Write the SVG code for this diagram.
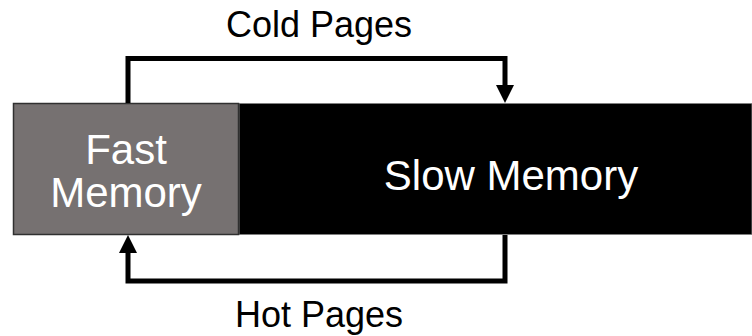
<svg xmlns="http://www.w3.org/2000/svg" width="752" height="336" viewBox="0 0 752 336">
  <style>
    .lbl { font-family: "Liberation Sans", Arial, sans-serif; text-anchor: middle; }
    .box-lbl { fill: #ffffff; font-size: 42px; }
    .edge-lbl { fill: #000000; font-size: 36px; }
    .wire { fill: none; stroke: #000000; stroke-width: 5; }
    .head { fill: #000000; }
  </style>

  <g id="slow-memory">
    <rect x="239" y="103.5" width="513" height="131" fill="#000000" stroke="#7f7f7f" stroke-width="1"/>
    <text class="lbl box-lbl" x="511" y="190">Slow Memory</text>
  </g>

  <g id="fast-memory">
    <rect x="13.5" y="103.5" width="225" height="131" fill="#767171" stroke="#303030" stroke-width="1.5"/>
    <text class="lbl box-lbl" x="126" y="164">Fast</text>
    <text class="lbl box-lbl" x="126" y="207">Memory</text>
  </g>

  <g id="connectors">
    <!-- fast -> slow (cold pages) -->
    <path class="wire" d="M128,103 V58.5 H505 V86"/>
    <polygon class="head" points="496,85 514,85 505,103"/>
    <!-- slow -> fast (hot pages) -->
    <path class="wire" d="M505,235 V281 H128 V252"/>
    <polygon class="head" points="119,253 137,253 128,235"/>
  </g>

  <g id="labels">
    <text class="lbl edge-lbl" x="319" y="37">Cold Pages</text>
    <text class="lbl edge-lbl" x="319" y="327">Hot Pages</text>
  </g>
</svg>
